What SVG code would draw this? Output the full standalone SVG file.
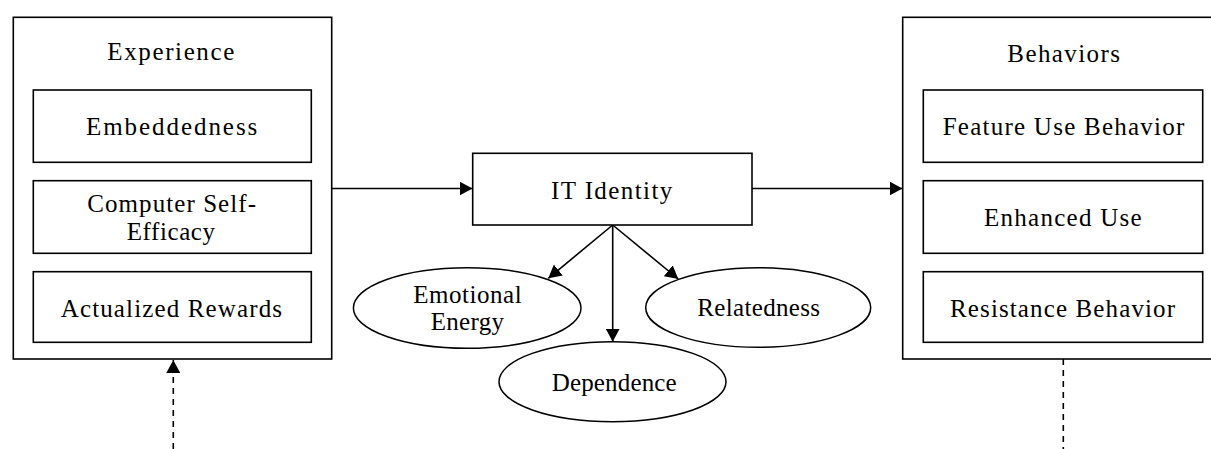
<svg xmlns="http://www.w3.org/2000/svg" width="1211" height="449" viewBox="0 0 1211 449">
<style>
.box{fill:#fff;stroke:#000;stroke-width:1.6}
.ell{fill:#fff;stroke:#000;stroke-width:1.5}
.t{font-family:"Liberation Serif","Times New Roman",serif;font-size:25px;fill:#000}
.c{fill:none;stroke:#000;stroke-width:1.6}
.d{fill:none;stroke:#000;stroke-width:1.6;stroke-dasharray:6 5}
</style>
<defs>
<marker id="ah" markerUnits="userSpaceOnUse" markerWidth="14" markerHeight="14" refX="13" refY="7" orient="auto">
<path d="M0,0 L13,7 L0,14 z" fill="#000"/>
</marker>
</defs>
<rect width="1211" height="449" fill="#fff"/>
<g id="connectors">
<line class="c" x1="332" y1="188.5" x2="472.5" y2="188.5" marker-end="url(#ah)"/>
<line class="c" x1="752" y1="188.5" x2="902.5" y2="188.5" marker-end="url(#ah)"/>
<line class="c" x1="612.7" y1="225" x2="548.3" y2="278.3" marker-end="url(#ah)"/>
<line class="c" x1="612.7" y1="225" x2="612.7" y2="341.7" marker-end="url(#ah)"/>
<line class="c" x1="612.7" y1="225" x2="678.3" y2="279" marker-end="url(#ah)"/>
<line class="d" x1="173.3" y1="449" x2="173.3" y2="360" marker-end="url(#ah)"/>
<line class="d" x1="1063.3" y1="359" x2="1063.3" y2="449"/>
</g>
<g id="experience">
<rect class="box" x="13.3" y="17.3" width="318.4" height="341.7"/>
<text class="t" x="107.3" y="60" textLength="127" lengthAdjust="spacing">Experience</text>
</g>
<g id="embeddedness">
<rect class="box" x="33.3" y="90" width="278" height="72.3"/>
<text class="t" x="86" y="134.5" textLength="171.3" lengthAdjust="spacing">Embeddedness</text>
</g>
<g id="cse">
<rect class="box" x="33.3" y="180.7" width="278" height="72.6"/>
<text class="t" x="87.3" y="211.5" textLength="168.7" lengthAdjust="spacing">Computer Self-</text>
<text class="t" x="126.7" y="240" textLength="88.3" lengthAdjust="spacing">Efficacy</text>
</g>
<g id="rewards">
<rect class="box" x="33.3" y="271.7" width="278" height="70.6"/>
<text class="t" x="60.7" y="316.5" textLength="221.3" lengthAdjust="spacing">Actualized Rewards</text>
</g>
<g id="itidentity">
<rect class="box" x="472.7" y="153.3" width="279.3" height="71.7"/>
<text class="t" x="551" y="199.3" textLength="121.3" lengthAdjust="spacing">IT Identity</text>
</g>
<g id="emotional">
<ellipse class="ell" cx="467.2" cy="308" rx="113.8" ry="40.3"/>
<text class="t" x="413.3" y="303.3" textLength="108.4" lengthAdjust="spacing">Emotional</text>
<text class="t" x="430.7" y="330" textLength="73.3" lengthAdjust="spacing">Energy</text>
</g>
<g id="dependence">
<ellipse class="ell" cx="612.5" cy="381.7" rx="113.5" ry="40"/>
<text class="t" x="551.7" y="390.7" textLength="125" lengthAdjust="spacing">Dependence</text>
</g>
<g id="relatedness">
<ellipse class="ell" cx="758.2" cy="307.5" rx="112.5" ry="39.8"/>
<text class="t" x="697.3" y="316" textLength="122.7" lengthAdjust="spacing">Relatedness</text>
</g>
<g id="behaviors">
<rect class="box" x="902.7" y="17.3" width="320" height="341.7"/>
<text class="t" x="1007.3" y="61.5" textLength="112.7" lengthAdjust="spacing">Behaviors</text>
</g>
<g id="featureuse">
<rect class="box" x="923.3" y="90" width="279.4" height="72.3"/>
<text class="t" x="942.7" y="135" textLength="241.6" lengthAdjust="spacing">Feature Use Behavior</text>
</g>
<g id="enhanced">
<rect class="box" x="923.3" y="180.7" width="279.4" height="72.6"/>
<text class="t" x="984" y="226" textLength="157.7" lengthAdjust="spacing">Enhanced Use</text>
</g>
<g id="resistance">
<rect class="box" x="923.3" y="271.7" width="279.4" height="70.6"/>
<text class="t" x="950" y="316.7" textLength="225" lengthAdjust="spacing">Resistance Behavior</text>
</g>
</svg>
